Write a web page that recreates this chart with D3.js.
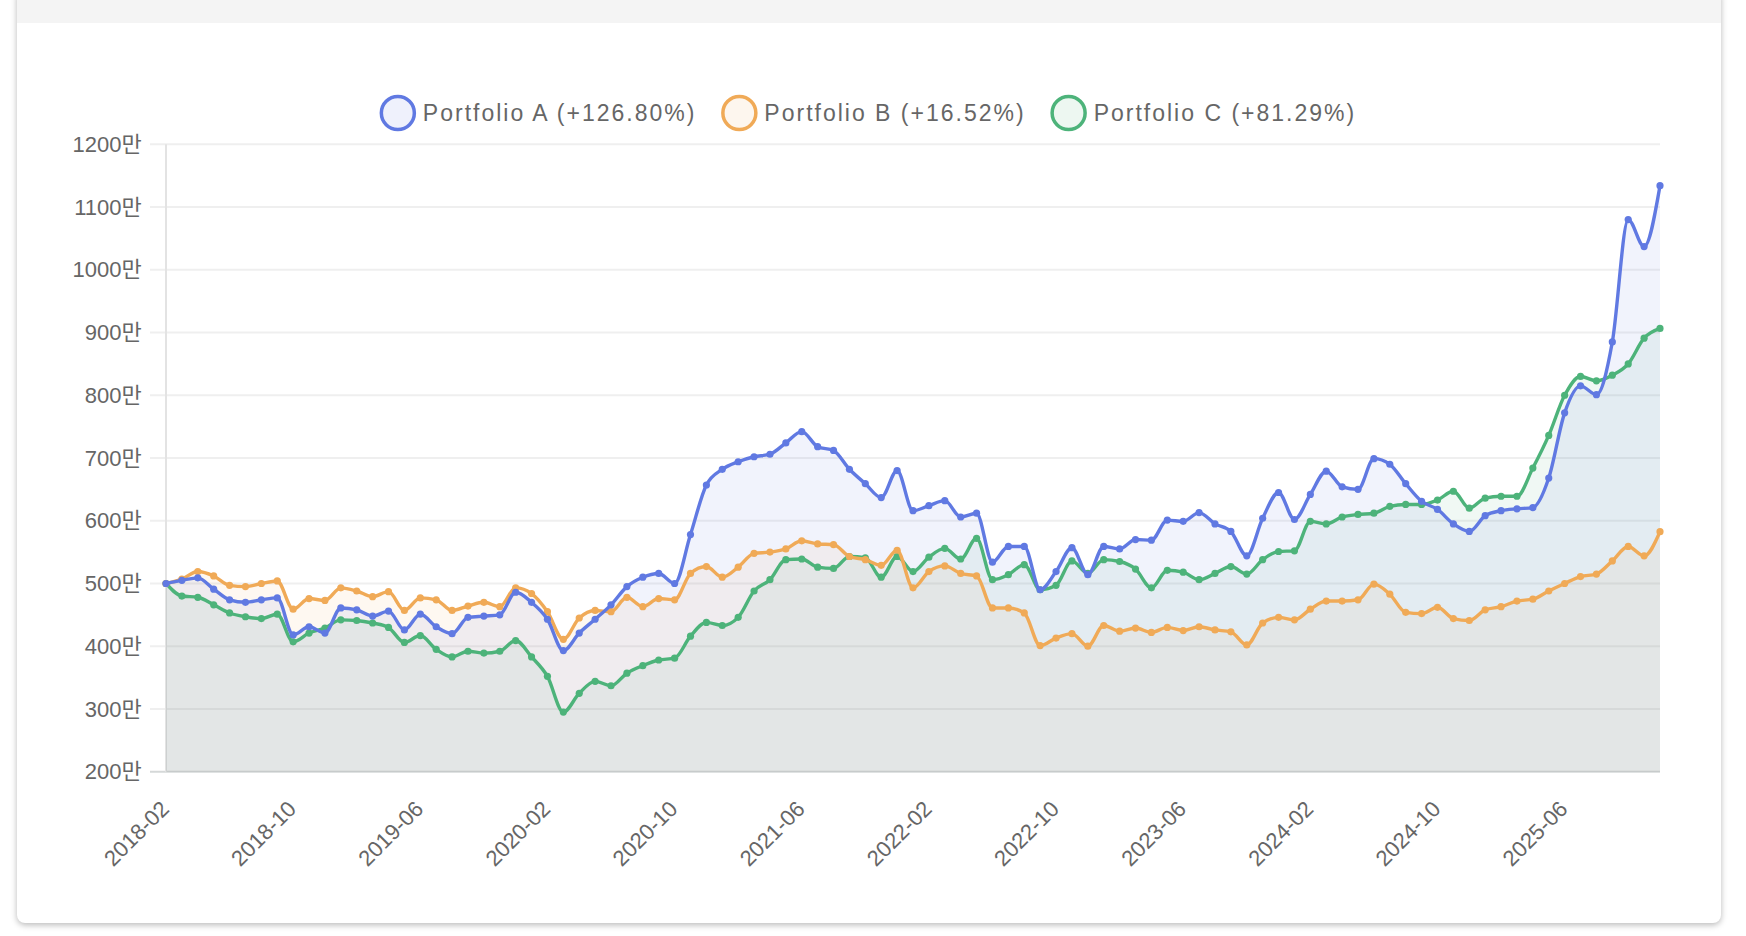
<!DOCTYPE html>
<html>
<head>
<meta charset="utf-8">
<script src="https://cdn.jsdelivr.net/npm/d3@7"></script>
<style>
  html, body { margin: 0; padding: 0; background: #ffffff; overflow: hidden; }
  body { width: 1746px; height: 936px; position: relative; font-family: "Liberation Sans", "Noto Sans CJK KR", sans-serif; }
  #card { position: absolute; left: 17px; top: -12px; width: 1704px; height: 935px; background: #fff;
          border-radius: 8px; box-shadow: 0 2px 6px rgba(0,0,0,0.28); overflow: hidden; }
  #band { position: absolute; left: 0; top: 0; width: 100%; height: 35px; background: #f4f4f4; }
  svg { position: absolute; left: 0; top: 0; }
</style>
</head>
<body>
<div id="card"><div id="band"></div></div>
<svg id="chart" width="1746" height="936"></svg>
<script>
// ---------- data ----------
const months = [
  "2018-02","2018-03","2018-04","2018-05","2018-06","2018-07","2018-08","2018-09","2018-10","2018-11","2018-12",
  "2019-01","2019-02","2019-03","2019-04","2019-05","2019-06","2019-07","2019-08","2019-09","2019-10","2019-11","2019-12",
  "2020-01","2020-02","2020-03","2020-04","2020-05","2020-06","2020-07","2020-08","2020-09","2020-10","2020-11","2020-12",
  "2021-01","2021-02","2021-03","2021-04","2021-05","2021-06","2021-07","2021-08","2021-09","2021-10","2021-11","2021-12",
  "2022-01","2022-02","2022-03","2022-04","2022-05","2022-06","2022-07","2022-08","2022-09","2022-10","2022-11","2022-12",
  "2023-01","2023-02","2023-03","2023-04","2023-05","2023-06","2023-07","2023-08","2023-09","2023-10","2023-11","2023-12",
  "2024-01","2024-02","2024-03","2024-04","2024-05","2024-06","2024-07","2024-08","2024-09","2024-10","2024-11","2024-12",
  "2025-01","2025-02","2025-03","2025-04","2025-05","2025-06","2025-07","2025-08","2025-09","2025-10","2025-11","2025-12"
];
const xTickLabels = ["2018-02","2018-10","2019-06","2020-02","2020-10","2021-06","2022-02","2022-10","2023-06","2024-02","2024-10","2025-06"];
const yTicks = [200,300,400,500,600,700,800,900,1000,1100,1200];

// values in 만
const portfolioA = [
  500,505,509,491,474,470,474,477,418,431,
  421,461,458,448,456,426,451,431,420,446,
  448,450,486,470,443,393,421,443,466,495,
  510,516,500,578,657,682,694,702,706,724,
  742,718,712,682,659,637,680,616,624,632,
  606,612,534,559,559,490,519,557,514,559,
  555,570,569,601,599,613,595,583,544,604,
  645,602,642,679,654,650,699,690,659,631,
  618,595,583,608,616,619,621,668,772,815,
  801,885,1080,1037,1134
];
const portfolioB = [
  500,507,519,512,497,495,500,504,459,476,
  473,493,488,479,487,457,477,474,457,464,
  470,463,493,484,455,411,445,457,455,478,
  463,476,474,516,527,510,526,548,550,555,
  568,563,562,543,538,529,553,493,519,528,
  516,512,461,461,453,401,413,420,400,433,
  424,429,422,430,425,431,426,423,402,437,
  446,442,459,472,472,474,499,483,454,452,
  462,444,441,458,463,472,475,488,500,511,
  515,536,559,544,582.6
];
const portfolioC = [
  500,480,478,466,453,447,444,451,407,421,
  429,442,441,437,430,406,417,395,383,392,
  389,392,409,383,352,295,325,344,337,357,
  369,378,381,416,438,433,446,488,506,538,
  539,526,524,543,541,510,543,519,542,556,
  539,572,506,514,530,490,497,536,516,538,
  535,523,493,521,518,506,516,527,515,538,
  551,552,599,595,606,610,612,623,626,626,
  633,647,620,636,639,639,684,736,800,830,
  823,832,850,891,906.45
];
const seriesNames = ["Portfolio A (+126.80%)","Portfolio B (+16.52%)","Portfolio C (+81.29%)"];
const seriesColors = ["#6079e2","#f0aa57","#4db37a"];
const seriesData = [portfolioA, portfolioB, portfolioC];

// ---------- layout ----------
const svg = d3.select("#chart");
const plotL = 166, plotR = 1660, plotT = 144.3, plotB = 771.7;
const x = d3.scalePoint().domain(months).range([plotL, plotR]);
const y = d3.scaleLinear().domain([200, 1200]).range([plotB, plotT]);

// grid lines
svg.append("g").selectAll("line").data(yTicks).join("line")
  .attr("x1", 150).attr("x2", plotR)
  .attr("y1", d => y(d)).attr("y2", d => y(d))
  .attr("stroke", d => d === 200 ? "#d5d8d8" : "#efefef")
  .attr("stroke-width", 2);

// y axis line
svg.append("line").attr("x1", plotL).attr("x2", plotL).attr("y1", plotT).attr("y2", plotB)
  .attr("stroke", "#e3e3e3").attr("stroke-width", 2);

// y labels
const yAxis = d3.axisLeft(y).tickValues(yTicks).tickSize(0).tickPadding(0).tickFormat(d => d + "만");
const yg = svg.append("g").attr("transform", "translate(141.7,0)").call(yAxis);
yg.select(".domain").remove();
yg.selectAll("text").attr("fill", "#666").attr("font-size", 22)
  .attr("font-family", "'Liberation Sans','Noto Sans CJK KR',sans-serif");

// x labels
svg.append("g").selectAll("text").data(xTickLabels).join("text")
  .attr("transform", d => `translate(${x(d) - 1},805) rotate(-45)`)
  .attr("text-anchor", "end").attr("dominant-baseline", "central")
  .attr("fill", "#666").attr("font-size", 22)
  .attr("font-family", "'Liberation Sans',sans-serif")
  .text(d => d);

// areas + lines
const area = d3.area().x((d, i) => x(months[i])).y0(y(200)).y1(d => y(d)).curve(d3.curveMonotoneX);
const line = d3.line().x((d, i) => x(months[i])).y(d => y(d)).curve(d3.curveMonotoneX);

const order = [2, 1, 0];
order.forEach(k => {
  svg.append("path").datum(seriesData[k]).attr("d", area)
    .attr("fill", seriesColors[k]).attr("fill-opacity", 0.085);
});
order.forEach(k => {
  const g = svg.append("g");
  g.append("path").datum(seriesData[k]).attr("d", line)
    .attr("fill", "none").attr("stroke", seriesColors[k]).attr("stroke-width", 3.4)
    .attr("stroke-linejoin", "round");
  g.selectAll("circle").data(seriesData[k]).join("circle")
    .attr("cx", (d, i) => x(months[i])).attr("cy", d => y(d)).attr("r", 3.6)
    .attr("fill", seriesColors[k]);
});

// legend
const lg = svg.append("g");
const items = seriesNames.map((name, k) => {
  const t = lg.append("text").text(name).attr("font-size", 23).attr("letter-spacing", 2)
    .attr("fill", "#666").attr("font-family", "'Liberation Sans',sans-serif")
    .attr("dominant-baseline", "central");
  return { t, w: t.node().getComputedTextLength(), k };
});
const legendW = items.reduce((s, it) => s + 25 + it.w + 43, 0) - 43 + 18;
let cx = 868 - legendW / 2 + 18;
items.forEach(it => {
  lg.append("circle").attr("cx", cx).attr("cy", 113).attr("r", 16.5)
    .attr("fill", seriesColors[it.k]).attr("fill-opacity", 0.1)
    .attr("stroke", seriesColors[it.k]).attr("stroke-width", 3.5);
  it.t.attr("x", cx + 25).attr("y", 113);
  cx = cx + 25 + it.w + 43;
});
</script>
</body>
</html>
